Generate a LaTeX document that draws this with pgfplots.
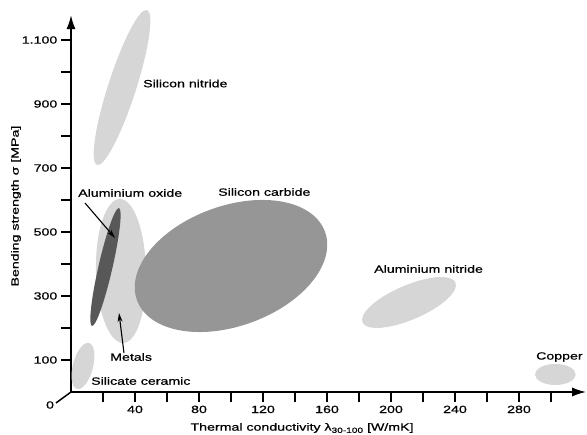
\documentclass[border=0pt]{standalone}
\usepackage{fontspec}
\setmainfont{Liberation Sans}[FakeStretch=1.35,FakeBold=0.6]
\usepackage{pgfplots}
\pgfplotsset{compat=1.18}
\usetikzlibrary{arrows.meta}
\definecolor{lightg}{RGB}{214,214,214}
\definecolor{midg}{RGB}{150,150,150}
\definecolor{darkg}{RGB}{88,88,88}
\begin{document}
\fontsize{10.5}{12.6}\selectfont
\begin{tikzpicture}
\begin{axis}[
  x=1.6pt, y=0.32pt,
  xmin=0, xmax=322, ymin=0, ymax=1178,
  axis lines=left,
  axis line style={line width=1.8pt, -{Latex[length=14pt,width=9pt]}},
  clip=false,
  xtick={40,80,...,280},
  minor xtick={20,60,...,300},
  ytick={100,300,...,1100},
  yticklabels={100,300,500,700,900,1.100},
  minor ytick={200,400,...,1000},
  tick align=outside,
  major tick length=10pt, minor tick length=10pt,
  tick style={line width=1.5pt, black},
  /pgf/number format/assume math mode=true,
  every tick label/.append style={font=\fontsize{10.5}{12.6}\selectfont},
]
% Silicon nitride
\addplot[draw=none, fill=lightg, smooth cycle, tension=1] coordinates {(47.5,1193.75) (40.2,938.1) (16.25,709.4) (23.6,965)};
% Silicate ceramic
\addplot[draw=none, fill=lightg, smooth cycle, tension=1] coordinates {(11.25,153.1) (13.6,73.4) (3.75,9.4) (1.4,89.1)};
% Metals
\addplot[draw=none, fill=lightg, smooth cycle, tension=1] coordinates {(30.6,603.1) (46.9,378.1) (32.5,153.1) (15.6,378.1)};
% Aluminium oxide
\addplot[draw=none, fill=darkg, smooth cycle, tension=1] coordinates {(30,575) (25.8,385.6) (13.1,206.3) (17.3,395.6)};
% Silicon carbide
\addplot[draw=none, fill=midg, smooth cycle, tension=1] coordinates {(158.75,500.6) (112.8,217.5) (41.25,286.9) (87.2,570)};
% Aluminium nitride
\addplot[draw=none, fill=lightg, smooth cycle, tension=1] coordinates {(240.3,341.9) (215.5,230.3) (182.2,217.5) (207,329.1)};
% Copper
\addplot[draw=none, fill=lightg, smooth cycle, tension=1] coordinates {(315.4,54.7) (302.7,21.9) (290,54.7) (302.7,87.5)};

\node[anchor=west, inner sep=0] at (axis cs:45,964) {Silicon nitride};
\node[anchor=west, inner sep=0] at (axis cs:4.4,621.9) {Aluminium oxide};
\node[anchor=west, inner sep=0] at (axis cs:91.9,625) {Silicon carbide};
\node[anchor=west, inner sep=0] at (axis cs:189.4,384.4) {Aluminium nitride};
\node[anchor=west, inner sep=0] at (axis cs:290.6,109.4) {Copper};
\node[anchor=west, inner sep=0] at (axis cs:24.4,109.4) {Metals};
\node[anchor=west, inner sep=0] at (axis cs:12.5,34.4) {Silicate ceramic};

\draw[line width=1.1pt, -{Stealth[length=9pt,width=5pt]}] (axis cs:8.75,590.6) -- (axis cs:27.5,481.25);
\draw[line width=1.1pt, -{Stealth[length=9pt,width=5pt]}] (axis cs:33.1,121.9) -- (axis cs:30,246.9);

\node[inner sep=0] at (axis cs:-13.1,-40.6) {0};
\draw[line width=1.5pt] (axis cs:-9.4,-34.4) -- (axis cs:0,0);

\node[rotate=90, inner sep=0] at (axis cs:-34.4,581) {Bending strength σ [MPa]};
\node[inner sep=0] at (axis cs:144.4,-112.5) {Thermal conductivity λ\raisebox{-0.4ex}{\fontsize{7.5}{9}\selectfont 30-100} [W/mK]};

\coordinate (BL) at (axis cs:-44.375,-134.375);
\coordinate (TR) at (axis cs:322.5,1225);
\end{axis}
\pgfresetboundingbox
\useasboundingbox (BL) rectangle (TR);
\end{tikzpicture}
\end{document}
